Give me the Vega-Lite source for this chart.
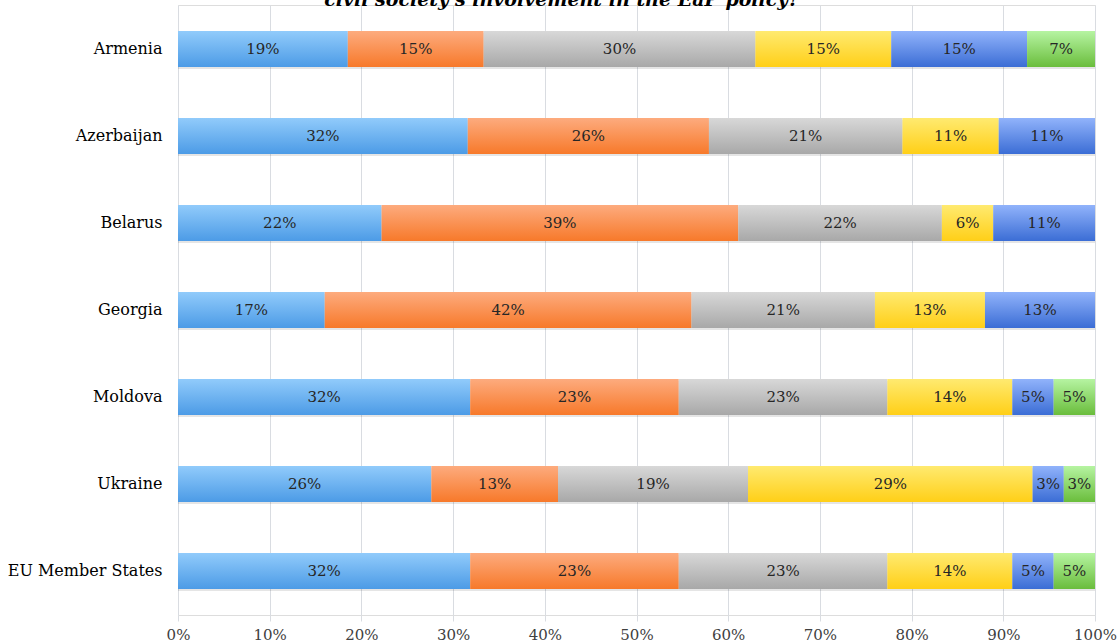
{
"$schema":"https://vega.github.io/schema/vega-lite/v6.json",
"width":917,"height":610,
"autosize":{"type":"none"},
"padding":{"left":178,"top":5,"right":25,"bottom":29},
"background":"white",
"title":{"text":"civil society's involvement in the EaP policy?","font":"DejaVu Serif","fontSize":19,"fontWeight":"bold","fontStyle":"italic","color":"#000000","anchor":"middle","frame":"bounds","offset":-20,"baseline":"alphabetic"},
"data":{"values":[
{"country":"Armenia","series":"Category 1","idx":1,"share":18.5,"label":"19%"},
{"country":"Armenia","series":"Category 2","idx":2,"share":14.8,"label":"15%"},
{"country":"Armenia","series":"Category 3","idx":3,"share":29.6,"label":"30%"},
{"country":"Armenia","series":"Category 4","idx":4,"share":14.8,"label":"15%"},
{"country":"Armenia","series":"Category 5","idx":5,"share":14.8,"label":"15%"},
{"country":"Armenia","series":"Category 6","idx":6,"share":7.4,"label":"7%"},
{"country":"Azerbaijan","series":"Category 1","idx":1,"share":31.6,"label":"32%"},
{"country":"Azerbaijan","series":"Category 2","idx":2,"share":26.3,"label":"26%"},
{"country":"Azerbaijan","series":"Category 3","idx":3,"share":21.1,"label":"21%"},
{"country":"Azerbaijan","series":"Category 4","idx":4,"share":10.5,"label":"11%"},
{"country":"Azerbaijan","series":"Category 5","idx":5,"share":10.5,"label":"11%"},
{"country":"Belarus","series":"Category 1","idx":1,"share":22.2,"label":"22%"},
{"country":"Belarus","series":"Category 2","idx":2,"share":38.9,"label":"39%"},
{"country":"Belarus","series":"Category 3","idx":3,"share":22.2,"label":"22%"},
{"country":"Belarus","series":"Category 4","idx":4,"share":5.6,"label":"6%"},
{"country":"Belarus","series":"Category 5","idx":5,"share":11.1,"label":"11%"},
{"country":"Georgia","series":"Category 1","idx":1,"share":16.0,"label":"17%"},
{"country":"Georgia","series":"Category 2","idx":2,"share":40.0,"label":"42%"},
{"country":"Georgia","series":"Category 3","idx":3,"share":20.0,"label":"21%"},
{"country":"Georgia","series":"Category 4","idx":4,"share":12.0,"label":"13%"},
{"country":"Georgia","series":"Category 5","idx":5,"share":12.0,"label":"13%"},
{"country":"Moldova","series":"Category 1","idx":1,"share":31.8,"label":"32%"},
{"country":"Moldova","series":"Category 2","idx":2,"share":22.7,"label":"23%"},
{"country":"Moldova","series":"Category 3","idx":3,"share":22.7,"label":"23%"},
{"country":"Moldova","series":"Category 4","idx":4,"share":13.6,"label":"14%"},
{"country":"Moldova","series":"Category 5","idx":5,"share":4.5,"label":"5%"},
{"country":"Moldova","series":"Category 6","idx":6,"share":4.5,"label":"5%"},
{"country":"Ukraine","series":"Category 1","idx":1,"share":27.6,"label":"26%"},
{"country":"Ukraine","series":"Category 2","idx":2,"share":13.8,"label":"13%"},
{"country":"Ukraine","series":"Category 3","idx":3,"share":20.7,"label":"19%"},
{"country":"Ukraine","series":"Category 4","idx":4,"share":31.0,"label":"29%"},
{"country":"Ukraine","series":"Category 5","idx":5,"share":3.4,"label":"3%"},
{"country":"Ukraine","series":"Category 6","idx":6,"share":3.4,"label":"3%"},
{"country":"EU Member States","series":"Category 1","idx":1,"share":31.8,"label":"32%"},
{"country":"EU Member States","series":"Category 2","idx":2,"share":22.7,"label":"23%"},
{"country":"EU Member States","series":"Category 3","idx":3,"share":22.7,"label":"23%"},
{"country":"EU Member States","series":"Category 4","idx":4,"share":13.6,"label":"14%"},
{"country":"EU Member States","series":"Category 5","idx":5,"share":4.5,"label":"5%"},
{"country":"EU Member States","series":"Category 6","idx":6,"share":4.5,"label":"5%"}
]},
"transform":[
{"stack":"share","groupby":["country"],"sort":[{"field":"idx","order":"ascending"}],"as":["x0","x1"],"offset":"normalize"},
{"calculate":"(datum.x0 + datum.x1) / 2","as":"xmid"}
],
"encoding":{
"y":{"field":"country","type":"nominal","sort":["Armenia","Azerbaijan","Belarus","Georgia","Moldova","Ukraine","EU Member States"],"scale":{"paddingInner":0.586,"paddingOuter":0.3},"axis":{"title":null,"domain":false,"ticks":false,"labelPadding":16,"labelFont":"DejaVu Serif","labelFontSize":16,"labelColor":"#000000"}}
},
"layer":[
{"mark":{"type":"bar","fill":"#000000","opacity":0.1,"yOffset":2},"encoding":{"x":{"field":"x0","type":"quantitative","scale":{"domain":[0,1],"nice":false},"axis":{"title":null,"values":[0,0.1,0.2,0.3,0.4,0.5,0.6,0.7,0.8,0.9,1],"format":".0%","grid":true,"gridColor":"#d9dce1","domain":false,"ticks":true,"tickColor":"#d9dce1","tickSize":6,"labelPadding":6,"labelFlush":false,"labelFont":"DejaVu Serif","labelFontSize":15,"labelColor":"#404040"}},"x2":{"field":"x1"}}},
{"transform":[{"filter":"datum.idx === 1"}],"mark":{"type":"bar","fill":{"gradient":"linear","x1":0,"y1":0,"x2":0,"y2":1,"stops":[{"offset":0,"color":"#91cbfb"},{"offset":1,"color":"#4c9be6"}]}},"encoding":{"x":{"field":"x0","type":"quantitative"},"x2":{"field":"x1"}}},
{"transform":[{"filter":"datum.idx === 2"}],"mark":{"type":"bar","fill":{"gradient":"linear","x1":0,"y1":0,"x2":0,"y2":1,"stops":[{"offset":0,"color":"#fdab7e"},{"offset":1,"color":"#f7792a"}]}},"encoding":{"x":{"field":"x0","type":"quantitative"},"x2":{"field":"x1"}}},
{"transform":[{"filter":"datum.idx === 3"}],"mark":{"type":"bar","fill":{"gradient":"linear","x1":0,"y1":0,"x2":0,"y2":1,"stops":[{"offset":0,"color":"#d8d8d8"},{"offset":1,"color":"#a8a8a8"}]}},"encoding":{"x":{"field":"x0","type":"quantitative"},"x2":{"field":"x1"}}},
{"transform":[{"filter":"datum.idx === 4"}],"mark":{"type":"bar","fill":{"gradient":"linear","x1":0,"y1":0,"x2":0,"y2":1,"stops":[{"offset":0,"color":"#ffea70"},{"offset":1,"color":"#ffcf17"}]}},"encoding":{"x":{"field":"x0","type":"quantitative"},"x2":{"field":"x1"}}},
{"transform":[{"filter":"datum.idx === 5"}],"mark":{"type":"bar","fill":{"gradient":"linear","x1":0,"y1":0,"x2":0,"y2":1,"stops":[{"offset":0,"color":"#91b3fb"},{"offset":1,"color":"#3b6dd5"}]}},"encoding":{"x":{"field":"x0","type":"quantitative"},"x2":{"field":"x1"}}},
{"transform":[{"filter":"datum.idx === 6"}],"mark":{"type":"bar","fill":{"gradient":"linear","x1":0,"y1":0,"x2":0,"y2":1,"stops":[{"offset":0,"color":"#b6f4a2"},{"offset":1,"color":"#6abd3c"}]}},"encoding":{"x":{"field":"x0","type":"quantitative"},"x2":{"field":"x1"}}},
{"mark":{"type":"text","font":"DejaVu Serif","fontSize":15,"color":"#262626","align":"center","baseline":"middle"},"encoding":{"x":{"field":"xmid","type":"quantitative"},"text":{"field":"label","type":"nominal"}}}
]
}
